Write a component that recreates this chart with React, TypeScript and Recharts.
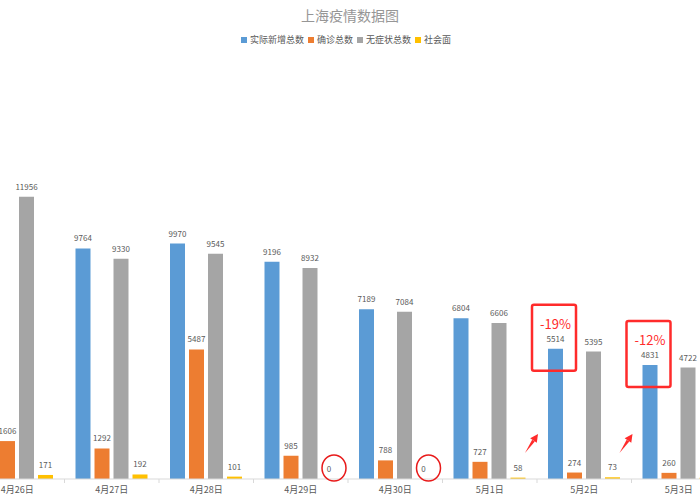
import React from "react";
import { BarChart, Bar, XAxis, YAxis, Legend, LabelList } from "recharts";

const categories = ["4月26日", "4月27日", "4月28日", "4月29日", "4月30日", "5月1日", "5月2日", "5月3日"];
const actualNew = [12562, 9764, 9970, 9196, 7189, 6804, 5514, 4831];
const confirmed = [1606, 1292, 5487, 985, 788, 727, 274, 260];
const asymptomatic = [11956, 9330, 9545, 8932, 7084, 6606, 5395, 4722];
const community = [171, 192, 101, 0, 0, 58, 73, 52];
const dropLabels = ["", "", "", "", "", "", "-19%", "-12%"];

const seriesKeys = ["actual", "confirmed", "asym", "community"];
const seriesNames = ["实际新增总数", "确诊总数", "无症状总数", "社会面"];
const seriesColors = ["#5B9BD5", "#ED7D31", "#A5A5A5", "#FFC000"];

const data = categories.map((day, i) => ({
  day,
  actual: actualNew[i],
  confirmed: confirmed[i],
  asym: asymptomatic[i],
  community: community[i],
}));

const FONT = '"Noto Sans CJK SC", "Noto Sans", sans-serif';
const LABEL_COLOR = "#595959";
const RED = "#FF2B2B";
const BAND = 94.5;

function box(props: any) {
  const vb = props.viewBox || props;
  return { x: vb.x, y: vb.y, w: vb.width, h: vb.height };
}

function ValueText({ x, y, w, value }: any) {
  return (
    <text x={x + w / 2} y={y - 7} textAnchor="middle" fontSize={8} fill={LABEL_COLOR} fontFamily={FONT}>
      {value}
    </text>
  );
}

// blue series label: value + red box / arrow where the day-on-day drop is marked
function ActualLabel(props: any) {
  const { x, y, w, h } = box(props);
  const drop = dropLabels[props.index];
  if (!drop) return <ValueText x={x} y={y} w={w} value={props.value} />;
  const base = y + h;
  const sx = x - 23, sy = base - 26, ex = x - 10, ey = base - 45;
  const len = Math.hypot(ex - sx, ey - sy);
  const ux = (ex - sx) / len, uy = (ey - sy) / len;
  const hx = ex - ux * 8, hy = ey - uy * 8;
  return (
    <g>
      <ValueText x={x} y={y} w={w} value={props.value} />
      <rect x={x - 16} y={y - 44} width={44} height={66} rx={2} fill="none" stroke={RED} strokeWidth={2.5} />
      <text x={x + w / 2} y={y - 20} textAnchor="middle" fontSize={13} fill={RED} fontFamily={FONT}>
        {drop}
      </text>
      <polygon
        points={`${sx},${sy} ${hx - uy * 1.6},${hy + ux * 1.6} ${hx + uy * 1.6},${hy - ux * 1.6}`}
        fill={RED}
      />
      <polygon
        points={`${ex},${ey} ${hx - uy * 4},${hy + ux * 4} ${hx + uy * 4},${hy - ux * 4}`}
        fill={RED}
      />
    </g>
  );
}

// yellow series label: value, circled when zero
function CommunityLabel(props: any) {
  const { x, y, w, h } = box(props);
  const top = props.value === 0 ? y + h : y;
  return (
    <g>
      <ValueText x={x} y={top} w={w} value={props.value} />
      {props.value === 0 && (
        <ellipse cx={x + w / 2 + 5} cy={top - 11} rx={12} ry={13} fill="none" stroke="#E81A1A" strokeWidth={1.5} />
      )}
    </g>
  );
}

function PlainLabel(props: any) {
  const { x, y, w } = box(props);
  return <ValueText x={x} y={y} w={w} value={props.value} />;
}

function DayTick(props: any) {
  const { x, y, payload } = props;
  return (
    <g>
      <line x1={x - BAND / 2} x2={x - BAND / 2} y1={y - 8} y2={y - 4} stroke="#D9D9D9" />
      <text x={x} y={y} dy="0.71em" textAnchor="middle" fontSize={9} fill={LABEL_COLOR} fontFamily={FONT}>
        {payload.value}
      </text>
    </g>
  );
}

function LegendContent() {
  return (
    <div style={{ display: "flex", justifyContent: "center", fontSize: 9, color: LABEL_COLOR, fontFamily: FONT }}>
      {seriesNames.map((name, i) => (
        <span key={name} style={{ display: "flex", alignItems: "center", marginRight: 4 }}>
          <span style={{ width: 6, height: 6, background: seriesColors[i], marginRight: 3, display: "inline-block" }} />
          {name}
        </span>
      ))}
    </div>
  );
}

const labelRenderers = [ActualLabel, PlainLabel, PlainLabel, CommunityLabel];

export default function App() {
  return (
    <div style={{ position: "fixed", left: 0, top: 0, width: 700, height: 500, overflow: "hidden", background: "#fff" }}>
      <div
        style={{
          position: "absolute",
          top: 5,
          width: 700,
          textAlign: "center",
          fontSize: 14,
          color: "#969696",
          fontFamily: FONT,
        }}
      >
        上海疫情数据图
      </div>
      <div style={{ position: "absolute", left: -30, top: 0 }}>
        <BarChart
          width={756}
          height={500}
          data={data}
          margin={{ top: 54, right: 0, bottom: 0, left: 0 }}
          barCategoryGap={11}
          barGap={4}
        >
          <XAxis
            dataKey="day"
            height={21}
            axisLine={{ stroke: "#D9D9D9" }}
            tickLine={false}
            tick={<DayTick />}
            interval={0}
          />
          <YAxis hide domain={[0, 18000]} />
          <Legend
            layout="horizontal"
            verticalAlign="middle"
            align="center"
            content={<LegendContent />}
            wrapperStyle={{ top: 33, left: 0, width: 756 }}
          />
          {seriesKeys.map((key, i) => (
            <Bar
              key={key}
              dataKey={key}
              name={seriesNames[i]}
              fill={seriesColors[i]}
              minPointSize={key === "community" ? 0.01 : 0}
              isAnimationActive={false}
            >
              <LabelList dataKey={key} content={labelRenderers[i]} />
            </Bar>
          ))}
        </BarChart>
      </div>
    </div>
  );
}
